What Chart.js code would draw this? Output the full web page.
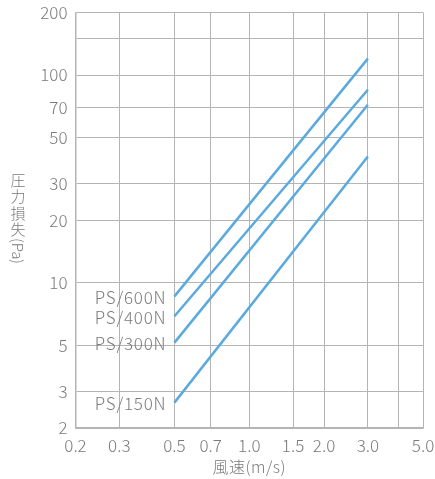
<!DOCTYPE html>
<html>
<head>
<meta charset="utf-8">
<script src="https://cdn.jsdelivr.net/npm/chart.js@4/dist/chart.umd.min.js"></script>
<style>
  html, body { margin: 0; padding: 0; background: #fff; }
  #wrap { width: 435px; height: 479px; }
</style>
</head>
<body>
<div id="wrap"><canvas id="c" width="435" height="479"></canvas></div>
<script>
// Values (log-log, straight lines between 0.5 and 3.0 m/s)
const speeds = [0.5, 3.0];
const ps600 = [8.6, 120];
const ps400 = [6.9, 85];
const ps300 = [5.15, 72];
const ps150 = [2.65, 40.5];
const seriesNames = ['PS/600N', 'PS/400N', 'PS/300N', 'PS/150N'];

const xTicks = [0.2, 0.3, 0.5, 0.7, 1.0, 1.5, 2.0, 3.0, 4.0, 5.0];
const xTickLabels = ['0.2', '0.3', '0.5', '0.7', '1.0', '1.5', '2.0', '3.0', '', '5.0'];
const yTicks = [2, 3, 5, 10, 20, 30, 50, 70, 100, 150, 200];
const yTickLabels = ['2', '3', '5', '10', '20', '30', '50', '70', '100', '', '200'];

const xTitle = '風速(m/s)';
const yTitleChars = ['圧', '力', '損', '失'];
const yTitleTail = '(Pa)';

const LINE = '#5aaade';
const GRID = '#b4b4b4';
const TEXT = '#7a7a7a';
const FONT = "'Noto Sans CJK JP', 'Noto Sans', sans-serif";

const pts = vals => speeds.map((x, i) => ({ x, y: vals[i] }));

// Series name written just left of each line's first point
const seriesLabels = {
  id: 'seriesLabels',
  afterDatasetsDraw(chart) {
    const ctx = chart.ctx;
    ctx.save();
    ctx.font = '300 17px ' + FONT;
    ctx.letterSpacing = '0.8px';
    ctx.fillStyle = TEXT;
    ctx.textAlign = 'right';
    ctx.textBaseline = 'middle';
    chart.data.datasets.forEach((ds, i) => {
      const p = chart.getDatasetMeta(i).data[0];
      ctx.fillText(ds.label, p.x - 8, p.y + 1);
    });
    ctx.restore();
  }
};

// Axis titles: x centred under plot, y in vertical writing
const axisTitles = {
  id: 'axisTitles',
  afterDraw(chart) {
    const ctx = chart.ctx, a = chart.chartArea;
    ctx.save();
    ctx.fillStyle = TEXT;
    ctx.font = '300 16px ' + FONT;
    ctx.letterSpacing = '0.5px';
    ctx.textAlign = 'center';
    ctx.textBaseline = 'middle';
    ctx.fillText(xTitle, (a.left + a.right) / 2, 467);

    ctx.font = '300 15px ' + FONT;
    ctx.letterSpacing = '0px';
    let y = 180;
    yTitleChars.forEach(ch => { ctx.fillText(ch, 18, y); y += 16.5; });
    ctx.translate(18, y - 8);
    ctx.rotate(Math.PI / 2);
    ctx.textAlign = 'left';
    ctx.fillText(yTitleTail, 0, 0);
    ctx.restore();
  }
};

new Chart(document.getElementById('c'), {
  type: 'line',
  data: {
    datasets: [ps600, ps400, ps300, ps150].map((v, i) => ({
      label: seriesNames[i],
      data: pts(v),
      borderColor: LINE,
      borderWidth: 2.5,
      pointRadius: 0,
      fill: false,
      tension: 0
    }))
  },
  options: {
    responsive: false,
    animation: false,
    layout: { padding: { top: 12.5, right: 12, left: 0, bottom: 0 } },
    plugins: { legend: { display: false }, tooltip: { enabled: false } },
    scales: {
      x: {
        type: 'logarithmic',
        min: 0.2, max: 5.0,
        afterBuildTicks: s => { s.ticks = xTicks.map(value => ({ value })); },
        afterFit: s => { s.height = 51; s.paddingLeft = 0; s.paddingRight = 0; },
        grid: { color: GRID, lineWidth: 1, drawTicks: false },
        border: { color: GRID, width: 1.5 },
        ticks: {
          autoSkip: false, maxRotation: 0, padding: 7,
          color: TEXT, font: { family: FONT, size: 17, weight: 300 },
          callback: (v, i) => xTickLabels[i]
        }
      },
      y: {
        type: 'logarithmic',
        min: 2, max: 200,
        afterBuildTicks: s => { s.ticks = yTicks.map(value => ({ value })); },
        afterFit: s => { s.width = 75.5; s.paddingTop = 0; s.paddingBottom = 0; },
        grid: { color: GRID, lineWidth: 1, drawTicks: false },
        border: { color: GRID, width: 1.5 },
        ticks: {
          autoSkip: false, padding: 8,
          color: TEXT, font: { family: FONT, size: 17, weight: 300 },
          callback: (v, i) => yTickLabels[i]
        }
      }
    }
  },
  plugins: [seriesLabels, axisTitles]
});
</script>
</body>
</html>
